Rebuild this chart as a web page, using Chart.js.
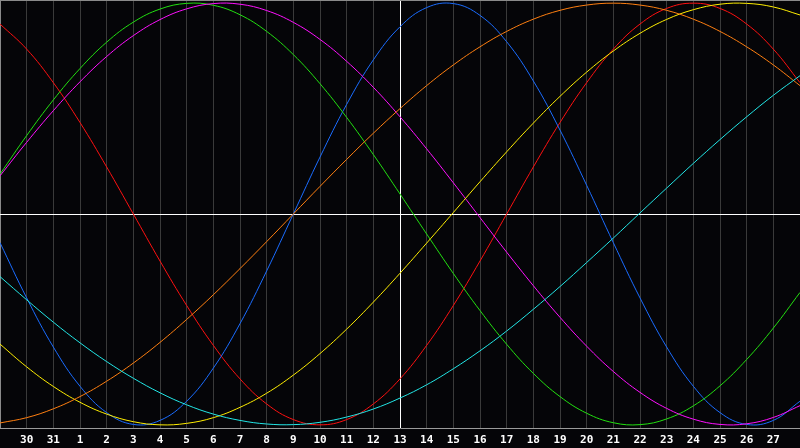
<!DOCTYPE html>
<html>
<head>
<meta charset="utf-8">
<script src="https://cdn.jsdelivr.net/npm/chart.js@4"></script>
<style>
html,body{margin:0;padding:0;background:#050508;}
#c{display:block;background:#050508;}
</style>
</head>
<body>
<canvas id="c" width="800" height="448"></canvas>
<script>
const days = ['29','30','31','1','2','3','4','5','6','7','8','9','10','11','12','13','14','15','16','17','18','19','20','21','22','23','24','25','26','27','28'];

const blueSeries = [-0.136,-0.398,-0.631,-0.817,-0.942,-0.998,-0.979,-0.888,-0.731,-0.520,-0.270,0,0.270,0.520,0.731,0.888,0.979,0.998,0.942,0.817,0.631,0.398,0.136,-0.136,-0.398,-0.631,-0.817,-0.942,-0.998,-0.979,-0.888];
const redSeries = [0.901,0.782,0.623,0.434,0.223,0,-0.223,-0.434,-0.623,-0.782,-0.901,-0.975,-1,-0.975,-0.901,-0.782,-0.623,-0.434,-0.223,0,0.223,0.434,0.623,0.782,0.901,0.975,1,0.975,0.901,0.782,0.623];
const greenSeries = [0.189,0.372,0.541,0.690,0.815,0.910,0.972,0.999,0.990,0.945,0.866,0.756,0.618,0.458,0.282,0.095,-0.095,-0.282,-0.458,-0.618,-0.756,-0.866,-0.945,-0.990,-0.999,-0.972,-0.910,-0.815,-0.690,-0.541,-0.372];
const magentaSeries = [0.181,0.340,0.490,0.627,0.747,0.846,0.922,0.973,0.998,0.995,0.965,0.909,0.828,0.724,0.601,0.461,0.309,0.148,-0.017,-0.181,-0.340,-0.490,-0.627,-0.747,-0.846,-0.922,-0.973,-0.998,-0.995,-0.965,-0.909];
const yellowSeries = [-0.617,-0.725,-0.818,-0.893,-0.949,-0.985,-1.000,-0.993,-0.966,-0.917,-0.850,-0.764,-0.662,-0.546,-0.418,-0.281,-0.138,0.007,0.153,0.295,0.431,0.558,0.673,0.773,0.857,0.923,0.969,0.995,0.999,0.982,0.944];
const orangeSeries = [-0.991,-0.966,-0.924,-0.866,-0.793,-0.707,-0.609,-0.5,-0.383,-0.259,-0.131,0,0.131,0.259,0.383,0.5,0.609,0.707,0.793,0.866,0.924,0.966,0.991,1,0.991,0.966,0.924,0.866,0.793,0.707,0.609];
const cyanSeries = [-0.297,-0.407,-0.513,-0.611,-0.700,-0.779,-0.848,-0.905,-0.949,-0.979,-0.996,-0.999,-0.988,-0.963,-0.925,-0.873,-0.810,-0.734,-0.649,-0.555,-0.452,-0.344,-0.230,-0.114,0.005,0.123,0.240,0.353,0.461,0.563,0.656];

const yMin = -1.015, yMax = 1.015;
const todayIndex = 15;

function ds(data, color){
  return {data, borderColor: color, borderWidth: 1, pointRadius: 0, pointBorderWidth: 0, pointHoverRadius: 0, tension: 0.4, fill: false};
}

new Chart(document.getElementById('c'), {
  type: 'line',
  data: {
    labels: days,
    datasets: [
      ds(cyanSeries, '#22e6e6'),
      ds(orangeSeries, '#ff7f10'),
      ds(yellowSeries, '#ffee00'),
      ds(magentaSeries, '#ff10ff'),
      ds(greenSeries, '#22e010'),
      ds(blueSeries, '#1a6cff'),
      ds(redSeries, '#ff1010')
    ]
  },
  options: {
    responsive: false,
    devicePixelRatio: 1,
    animation: false,
    events: [],
    layout: {padding: 0, autoPadding: false},
    plugins: {legend: {display: false}, tooltip: {enabled: false}},
    scales: {
      x: {
        type: 'category',
        offset: false,
        grid: {
          drawTicks: false,
          lineWidth: 1,
          color: (ctx) => ctx.index === todayIndex ? '#ffffff' : (ctx.index === 0 ? '#8a8a8a' : '#3a3a3a')
        },
        border: {color: '#9a9a9a', width: 1},
        ticks: {
          autoSkip: false,
          maxRotation: 0,
          color: '#ffffff',
          padding: 6,
          font: {family: 'DejaVu Sans Mono', weight: 'bold', size: 11},
          callback: function(v, i){ return (i === 0 || i === days.length - 1) ? '' : days[i]; }
        },
        afterFit: (s) => { s.height = 20; s.paddingLeft = 0; s.paddingRight = 0; }
      },
      y: {
        min: yMin,
        max: yMax,
        ticks: {display: false},
        border: {display: false},
        grid: {
          drawTicks: false,
          color: (ctx) => ctx.tick.value === 0 ? '#ffffff' : (ctx.tick.value === yMax ? '#8a8a8a' : 'rgba(0,0,0,0)')
        },
        afterBuildTicks: (s) => { s.ticks = [{value: yMin}, {value: 0}, {value: yMax}]; },
        afterFit: (s) => { s.width = 0; s.paddingTop = 0; s.paddingBottom = 0; }
      }
    }
  }
});
</script>
</body>
</html>
